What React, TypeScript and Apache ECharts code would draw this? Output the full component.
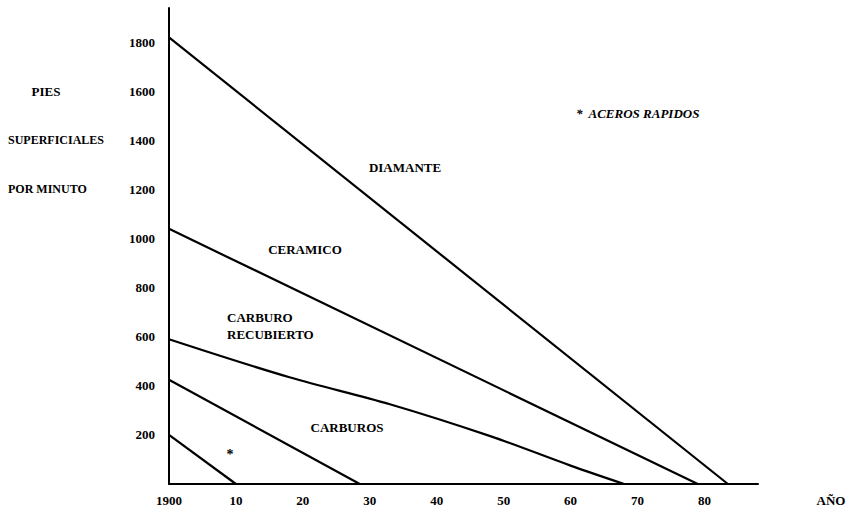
import React, { useEffect, useRef } from "react";
import * as echarts from "echarts";

const xTickValues = [1900, 1910, 1920, 1930, 1940, 1950, 1960, 1970, 1980];
const xTickLabels = ["1900", "10", "20", "30", "40", "50", "60", "70", "80"];
const yTickValues = [200, 400, 600, 800, 1000, 1200, 1400, 1600, 1800];

const acerosRapidos = [
  [1900, 200],
  [1910, 0],
];
const carburos = [
  [1900, 425],
  [1928.5, 0],
];
const carburoRecubierto = [
  [1900, 590],
  [1918, 435],
  [1933, 325],
  [1948, 195],
  [1960, 75],
  [1968, 0],
];
const ceramico = [
  [1900, 1040],
  [1979, 0],
];
const diamante = [
  [1900, 1820],
  [1983.5, 0],
];

const FONT = "Liberation Serif, DejaVu Serif, serif";

export default function App() {
  const ref = useRef<HTMLDivElement>(null);
  useEffect(() => {
    if (!ref.current) return;
    const chart = echarts.init(ref.current, undefined, { renderer: "svg" });
    const lineSeries = (name: string, data: number[][], smooth: any = false) => ({
      name,
      type: "line",
      data,
      symbol: "none",
      smooth,
      lineStyle: { color: "#000", width: 2.2 },
      z: 3,
    });
    const txt = (
      text: string,
      x: number,
      y: number,
      align: string = "center",
      size: number = 13,
      style: string = "normal"
    ) => ({
      type: "text",
      x,
      y,
      style: {
        text,
        fill: "#000",
        fontFamily: FONT,
        fontSize: size,
        fontWeight: "bold",
        fontStyle: style,
        textAlign: align,
        textVerticalAlign: "middle",
      },
    });
    chart.setOption({
      animation: false,
      backgroundColor: "#fff",
      grid: { left: 169, right: 93, top: 8, bottom: 26, containLabel: false },
      xAxis: {
        type: "value",
        min: 1900,
        max: 1988,
        axisLine: { show: true, onZero: false, lineStyle: { color: "#000", width: 2 } },
        axisTick: { show: false },
        splitLine: { show: false },
        axisLabel: {
          customValues: xTickValues,
          formatter: (v: number) => {
            const i = xTickValues.indexOf(Math.round(v));
            return i >= 0 ? xTickLabels[i] : "";
          },
          color: "#000",
          fontFamily: FONT,
          fontWeight: "bold",
          fontSize: 13,
          margin: 10,
        },
      },
      yAxis: {
        type: "value",
        min: 0,
        max: 1940,
        axisLine: { show: true, onZero: false, lineStyle: { color: "#000", width: 2 } },
        axisTick: { show: false },
        splitLine: { show: false },
        axisLabel: {
          customValues: yTickValues,
          formatter: (v: number) => String(Math.round(v)),
          color: "#000",
          fontFamily: FONT,
          fontWeight: "bold",
          fontSize: 13,
          margin: 14,
        },
      },
      series: [
        lineSeries("Aceros rapidos", acerosRapidos),
        lineSeries("Carburos", carburos),
        lineSeries("Carburo recubierto", carburoRecubierto, 0.35),
        lineSeries("Ceramico", ceramico),
        lineSeries("Diamante", diamante),
      ],
      graphic: [
        txt("PIES", 46, 91),
        txt("SUPERFICIALES", 8, 140, "left", 12),
        txt("POR MINUTO", 8, 189, "left", 12),
        txt("DIAMANTE", 405, 167),
        txt("CERAMICO", 305, 249),
        txt("CARBURO", 227, 317, "left"),
        txt("RECUBIERTO", 227, 334, "left"),
        txt("CARBUROS", 347, 427),
        txt("*", 230, 454, "center", 14),
        txt("*  ACEROS RAPIDOS", 576, 113, "left", 13, "italic"),
        txt("AÑO", 831, 500),
      ],
    });
    return () => chart.dispose();
  }, []);
  return (
    <div
      ref={ref}
      style={{
        position: "fixed",
        left: 0,
        top: 0,
        width: 851,
        height: 510,
        background: "#fff",
      }}
    />
  );
}
